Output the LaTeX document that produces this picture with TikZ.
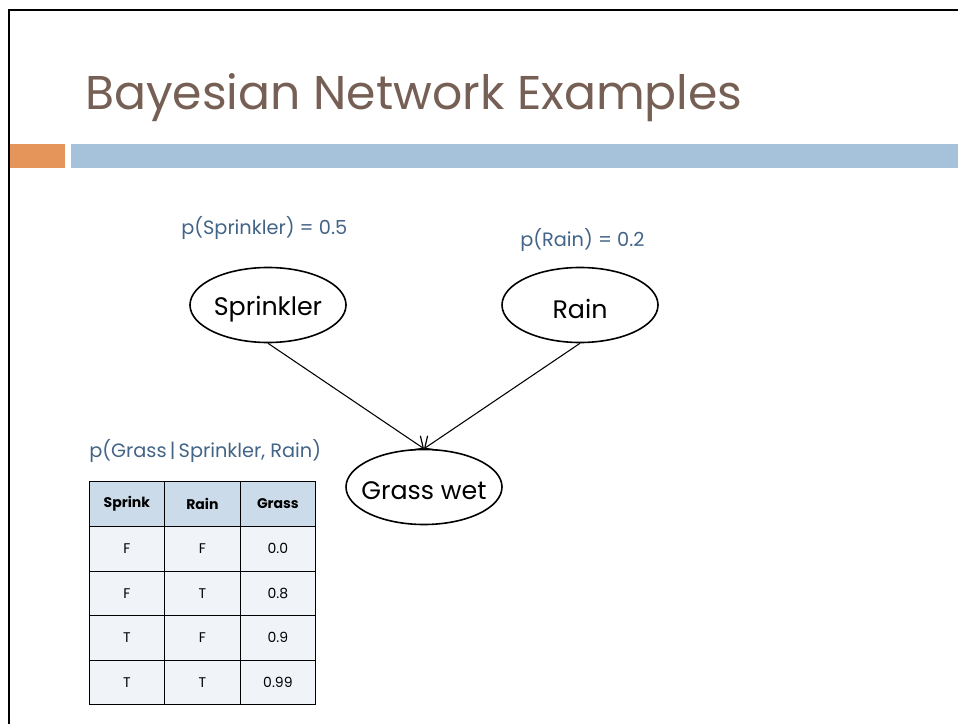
\documentclass[tikz,border=0pt]{standalone}
\usepackage{fontspec}
\setmainfont{Poppins}
\usetikzlibrary{shapes.geometric,arrows.meta}
\definecolor{titlecol}{RGB}{118,95,84}
\definecolor{labcol}{RGB}{66,100,134}
\definecolor{orangebar}{RGB}{229,149,89}
\definecolor{bluebar}{RGB}{165,194,218}
\definecolor{headfill}{RGB}{203,219,233}
\definecolor{bodyfill}{RGB}{240,244,249}
\newlength{\pxu}\setlength{\pxu}{0.75pt}
\tikzset{
  bn/.style={ellipse,draw,line width=1.2pt,minimum width=156\pxu,minimum height=75\pxu,inner sep=0pt,
    label={[font=\fontsize{19}{22}\selectfont,inner sep=0pt,yshift=-3pt]center:#1}},
  lab/.style={text=labcol,font=\fontsize{14.5}{17}\selectfont,inner sep=0pt},
  cell/.style={draw,line width=0.6pt,inner sep=0pt,font=\fontsize{10.5}{12}\selectfont},
  edge/.style={-{Straight Barb[length=7pt,width=13pt,line width=0.9pt]},line width=0.8pt}
}
\begin{document}
\begin{tikzpicture}[x=0.75pt,y=-0.75pt]
\useasboundingbox (0,0) rectangle (958,724);
% frame
\draw[line width=2pt] (9,724) -- (9,10) -- (958,10);
% bars
\fill[orangebar] (10,144) rectangle (65,168);
\fill[bluebar] (71,144) rectangle (958,168);
% title
\node[anchor=base west,text=titlecol,font=\fontsize{35.5}{40}\selectfont,inner sep=0pt] (title) at (85,110) {Bayesian Network Examples};
% labels
\node[lab,anchor=base west] (ps) at (181,234) {p(Sprinkler) = 0.5};
\node[lab,anchor=base west] (pr) at (520,247) {p(Rain) = 0.2};
\node[lab,anchor=base west] (pg) at (89,457) {p(Grass\,|\,Sprinkler, Rain)};
% nodes
\node[bn=Sprinkler] (spr) at (268,305) {};
\node[bn=Rain] (rain) at (580,305) {};
\node[bn=Grass wet] (grass) at (424,487) {};
\draw[edge] (spr.south) -- (grass.north);
\draw[edge] (rain.south) -- (grass.north);
% table
\foreach \x/\w/\t [count=\i] in {89/75/Sprink,164/76/Rain,240/75/Grass}{
  \node[cell,fill=headfill,minimum width=\w\pxu,minimum height=45\pxu,anchor=north west,font=\fontsize{10.5}{12}\selectfont\bfseries] (h\i) at (\x,481) {\t};
}
\foreach \a/\b/\c [count=\r] in {F/F/0.0,F/T/0.8,T/F/0.9,T/T/0.99}{
  \pgfmathsetmacro{\yy}{526+(\r-1)*44.5}
  \node[cell,fill=bodyfill,minimum width=75\pxu,minimum height=44.5\pxu,anchor=north west] (a\r) at (89,\yy) {\a};
  \node[cell,fill=bodyfill,minimum width=76\pxu,minimum height=44.5\pxu,anchor=north west] (b\r) at (164,\yy) {\b};
  \node[cell,fill=bodyfill,minimum width=75\pxu,minimum height=44.5\pxu,anchor=north west] (c\r) at (240,\yy) {\c};
}
\end{tikzpicture}
\end{document}
